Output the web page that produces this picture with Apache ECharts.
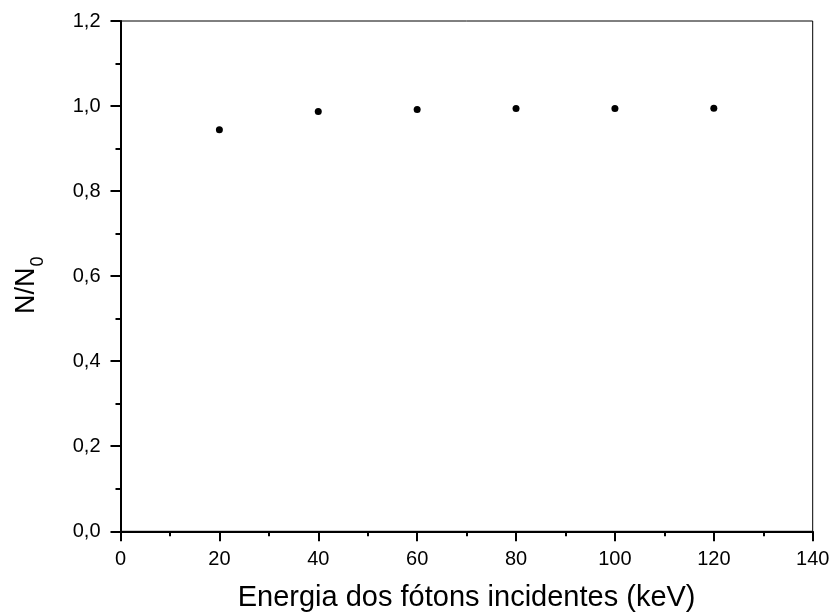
<!DOCTYPE html>
<html>
<head>
<meta charset="utf-8">
<script src="https://cdn.jsdelivr.net/npm/echarts@6/dist/echarts.min.js"></script>
<style>
html,body{margin:0;padding:0;background:#fff;}
#chart{width:832px;height:615px;}
</style>
</head>
<body>
<div id="chart"></div>
<script>
var energies = [20, 40, 60, 80, 100, 120];
var ratios = [0.944, 0.987, 0.992, 0.994, 0.994, 0.995];
var xTitle = 'Energia dos fótons incidentes (keV)';

var chart = echarts.init(document.getElementById('chart'), null, {renderer: 'canvas'});
var font = 'Liberation Sans, Arial, sans-serif';
chart.setOption({
  animation: false,
  backgroundColor: '#fff',
  grid: {left: 120.5, right: 19.3, top: 21, bottom: 83.7, show: true, borderColor: '#000', borderWidth: 1,
    backgroundColor: 'transparent', containLabel: false, outerBoundsMode: 'none'},
  xAxis: {
    type: 'value', min: 0, max: 140, interval: 20,
    name: xTitle, nameLocation: 'middle', nameGap: 52,
    nameTextStyle: {fontFamily: font, fontSize: 29, color: '#000'},
    axisLine: {show: true, onZero: false, lineStyle: {color: '#000', width: 2}},
    axisTick: {show: true, inside: false, length: 10, lineStyle: {color: '#000', width: 2}},
    minorTick: {show: true, splitNumber: 2, length: 5, lineStyle: {color: '#000', width: 2}},
    splitLine: {show: false},
    axisLabel: {fontFamily: font, fontSize: 20, color: '#000', margin: 18}
  },
  yAxis: {
    type: 'value', min: 0, max: 1.2, interval: 0.2,
    name: '{n|N/N}{s|0}', nameLocation: 'middle', nameGap: 73, nameRotate: 90,
    nameTextStyle: {fontFamily: font, fontSize: 27, color: '#000', padding: [0, 18, 0, 0],
      rich: {n: {fontFamily: font, fontSize: 27, color: '#000'},
             s: {fontFamily: font, fontSize: 18, color: '#000', padding: [24, 0, 0, 1]}}},
    axisLine: {show: true, onZero: false, lineStyle: {color: '#000', width: 2}},
    axisTick: {show: true, inside: false, length: 10, lineStyle: {color: '#000', width: 2}},
    minorTick: {show: true, splitNumber: 2, length: 5, lineStyle: {color: '#000', width: 2}},
    splitLine: {show: false},
    axisLabel: {fontFamily: font, fontSize: 20, color: '#000', margin: 20,
      formatter: function (v) { return v.toFixed(1).replace('.', ','); }}
  },
  series: [{
    type: 'scatter',
    data: energies.map(function (e, i) { return [e, ratios[i]]; }),
    symbol: 'circle', symbolSize: 7,
    itemStyle: {color: '#000', opacity: 1}
  }]
});
</script>
</body>
</html>
